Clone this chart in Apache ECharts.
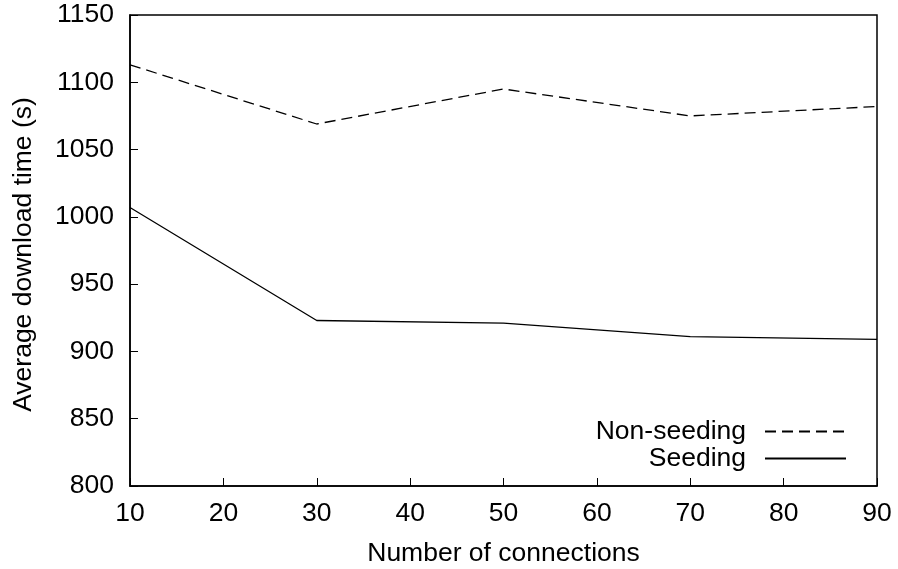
<!DOCTYPE html>
<html>
<head>
<meta charset="utf-8">
<script src="https://cdn.jsdelivr.net/npm/echarts@6/dist/echarts.min.js"></script>
<style>
html,body{margin:0;padding:0;background:#fff;}
#chart{width:898px;height:569px;}
</style>
</head>
<body>
<div id="chart"></div>
<script>
var connections = [10, 30, 50, 70, 90];
var nonSeeding = [1113, 1069, 1095, 1075, 1082];
var seeding = [1007, 923, 921, 911, 909];
var xTicks = [10, 20, 30, 40, 50, 60, 70, 80, 90];
var yTicks = [800, 850, 900, 950, 1000, 1050, 1100, 1150];

function pairs(xs, ys) { return xs.map(function (x, i) { return [x, ys[i]]; }); }

var font = 'Liberation Sans, Arial, Helvetica, sans-serif';
var fs = 26.5;
var chart = echarts.init(document.getElementById('chart'), null, {renderer: 'canvas'});
chart.setOption({
  animation: false,
  backgroundColor: '#fff',
  grid: {left: 130, right: 21, top: 15, bottom: 83, show: true, borderColor: '#000', borderWidth: 1.5, containLabel: false, outerBoundsMode: 'none'},
  legend: {
    orient: 'vertical', right: 46, top: 413, align: 'right',
    itemWidth: 81, itemHeight: 14, itemGap: 0,
    itemStyle: {opacity: 0},
    textStyle: {fontFamily: font, fontSize: fs, lineHeight: 27, color: '#000', padding: [0, 14, 0, 0]},
    data: ['Non-seeding', 'Seeding']
  },
  xAxis: {
    type: 'value', min: xTicks[0], max: xTicks[xTicks.length - 1], interval: 10,
    name: 'Number of connections', nameLocation: 'middle', nameGap: 54,
    nameTextStyle: {fontFamily: font, fontSize: fs, color: '#000'},
    axisLine: {lineStyle: {color: '#000', width: 1.5}},
    axisTick: {inside: true, length: 8, lineStyle: {color: '#000', width: 1}},
    axisLabel: {fontFamily: font, fontSize: fs, color: '#000', margin: 14},
    splitLine: {show: false}
  },
  yAxis: {
    type: 'value', min: yTicks[0], max: yTicks[yTicks.length - 1], interval: 50,
    name: 'Average download time (s)', nameLocation: 'middle', nameGap: 93,
    nameTextStyle: {fontFamily: font, fontSize: fs, color: '#000', padding: [0, 8, 0, 0]},
    axisLine: {show: true, lineStyle: {color: '#000', width: 1.5}},
    axisTick: {show: true, inside: true, length: 8, lineStyle: {color: '#000', width: 1}},
    axisLabel: {fontFamily: font, fontSize: fs, color: '#000', margin: 16, formatter: function (v) { return String(v); }},
    splitLine: {show: false}
  },
  series: [
    {
      name: 'Non-seeding', type: 'line', data: pairs(connections, nonSeeding),
      symbol: 'none', color: '#000',
      lineStyle: {color: '#000', width: 1.3, type: [11, 6]}
    },
    {
      name: 'Seeding', type: 'line', data: pairs(connections, seeding),
      symbol: 'none', color: '#000',
      lineStyle: {color: '#000', width: 1.3, type: 'solid'}
    }
  ]
});
</script>
</body>
</html>
